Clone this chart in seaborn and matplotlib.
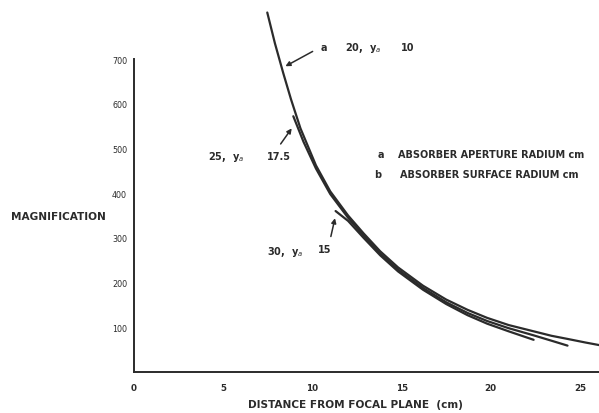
import numpy as np
import pandas as pd
import seaborn as sns
import matplotlib.pyplot as plt

# distance from focal plane (cm) and magnification
dist_a20 = [7.47, 7.9, 8.37, 8.8, 9.33, 10.2, 11.0, 12.0, 12.87, 13.8, 14.8, 16.2, 17.5, 18.7, 19.8, 21.0, 22.4, 23.4, 24.3, 25.3, 26.1]
mag_a20 = [804, 735, 668, 610, 545, 462, 404, 350, 310, 270, 234, 193, 162, 139, 121, 105, 91, 81, 74, 66, 60]

dist_a25 = [8.93, 9.5, 10.2, 11.0, 12.0, 12.87, 13.8, 14.8, 16.2, 17.5, 18.7, 19.8, 21.0, 22.4, 23.4, 24.3]
mag_a25 = [572, 515, 455, 398, 345, 305, 265, 229, 188, 156, 132, 114, 98, 82, 70, 59]

dist_a30 = [11.3, 12.0, 12.87, 13.8, 14.8, 16.2, 17.5, 18.7, 19.8, 21.0, 22.4]
mag_a30 = [360, 338, 300, 261, 225, 184, 152, 127, 108, 91, 72]

x_ticks = [0, 5, 10, 15, 20, 25]
y_ticks = [100, 200, 300, 400, 500, 600, 700]

df = pd.concat([
    pd.DataFrame({'dist': dist_a20, 'mag': mag_a20, 'curve': 'a20'}),
    pd.DataFrame({'dist': dist_a25, 'mag': mag_a25, 'curve': 'a25'}),
    pd.DataFrame({'dist': dist_a30, 'mag': mag_a30, 'curve': 'a30'}),
])

sns.set_style('white')
plt.rcParams['font.family'] = ['DejaVu Sans']
ink = '#2b2b2b'

W, H = 599, 414
fig = plt.figure(figsize=(W / 100, H / 100), dpi=100)
# axes placed so that 0..25 maps onto the scan's pixel grid
ax = fig.add_axes([134 / W, (H - 373) / H, (W - 134) / W, 373 / H])

sns.lineplot(data=df, x='dist', y='mag', hue='curve', units='curve', estimator=None,
             palette=[ink, ink, ink], linewidth=1.6, legend=False, sort=False, ax=ax)

ax.set_xlim(0, (W - 134) / 17.84)
ax.set_ylim(0, 373 / 0.4471)
ax.set_xticks(x_ticks)
ax.set_yticks(y_ticks)
ax.set_xticklabels([str(t) for t in x_ticks], fontsize=6.3, color=ink, fontweight='bold')
ax.set_yticklabels([str(t) for t in y_ticks], fontsize=5.8, color=ink)
ax.tick_params(axis='y', direction='out', length=4, width=1, color=ink, pad=1)
ax.tick_params(axis='x', direction='in', length=3, width=1, color=ink, pad=8)
ax.set_xlabel('')
ax.set_ylabel('')
sns.despine(ax=ax)
ax.spines['left'].set_bounds(0, 700)
for s in ('left', 'bottom'):
    ax.spines[s].set_color(ink)
    ax.spines[s].set_linewidth(1.4)


def fpos(px, py):
    return px / W, 1 - py / H


txt = dict(color=ink, va='center', fontsize=7, fontweight='semibold')
big = {**txt, 'fontsize': 7.6}
fig.text(*fpos(58, 217), 'MAGNIFICATION', ha='center', **big)
fig.text(*fpos(355, 405), 'DISTANCE FROM FOCAL PLANE  (cm)', ha='center', **big)

fig.text(*fpos(324, 48), 'a', ha='center', **txt)
fig.text(*fpos(345, 48), '20,  y$_a$', ha='left', **txt)
fig.text(*fpos(401, 48), '10', ha='left', **{**txt, 'fontweight': 'heavy'})
fig.text(*fpos(208, 157), '25,  y$_a$', ha='left', **txt)
fig.text(*fpos(267, 157), '17.5', ha='left', **txt)
fig.text(*fpos(267, 252), '30,  y$_a$', ha='left', **txt)
fig.text(*fpos(318, 250), '15', ha='left', **txt)

fig.text(*fpos(381, 155), 'a', ha='center', **txt)
fig.text(*fpos(398, 155), 'ABSORBER APERTURE RADIUM cm', ha='left', **txt)
fig.text(*fpos(378, 175), 'b', ha='center', **txt)
fig.text(*fpos(400, 175), 'ABSORBER SURFACE RADIUM cm', ha='left', **txt)

arrow = dict(arrowstyle='-|>', color=ink, lw=1.1, mutation_scale=7)
ax.annotate('', xy=(8.35, np.interp(8.35, dist_a20, mag_a20) + 10), xytext=(10.15, 720), arrowprops=arrow)
ax.annotate('', xy=(dist_a25[0], mag_a25[0] - 22), xytext=(8.13, 505), arrowprops=arrow)
ax.annotate('', xy=(dist_a30[0], mag_a30[0] - 10), xytext=(11.0, 297), arrowprops=arrow)

fig.savefig('out.png', dpi=100)
